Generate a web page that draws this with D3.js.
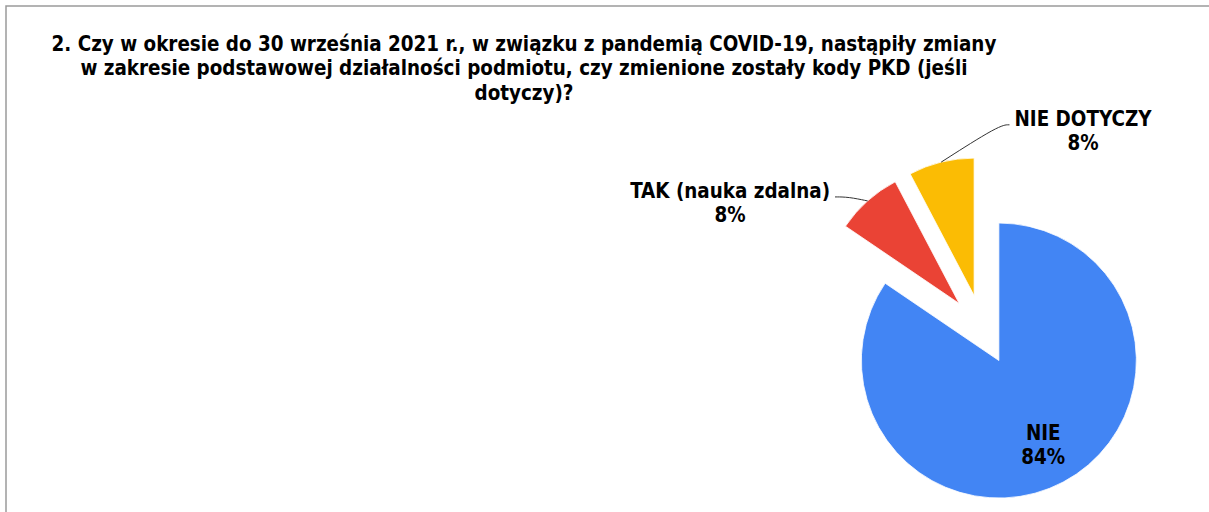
<!DOCTYPE html>
<html>
<head>
<meta charset="utf-8">
<script src="https://cdn.jsdelivr.net/npm/d3@7"></script>
<style>
  html, body { margin: 0; padding: 0; background: #fff; }
  svg { display: block; }
  text { font-family: "DejaVu Sans Condensed", "DejaVu Sans", sans-serif; font-weight: bold; fill: #000; }
</style>
</head>
<body>
<svg id="chart" width="1209" height="512"></svg>
<script>
// ---- data ----
const titleLines = [
  "2. Czy w okresie do 30 września 2021 r., w związku z pandemią COVID-19, nastąpiły zmiany",
  "w zakresie podstawowej działalności podmiotu, czy zmienione zostały kody PKD (jeśli",
  "dotyczy)?"
];
const categories = ["NIE", "TAK (nauka zdalna)", "NIE DOTYCZY"];
const values = [84.5, 7.8, 7.7];
const percentLabels = ["84%", "8%", "8%"];
const colors = ["#4285F4", "#EA4335", "#FBBC04"];

// ---- layout ----
const W = 1209, H = 512;
const cx = 982.5, cy = 329.6, R = 137.5, explode = 35;
const fontSize = 20.4;

const svg = d3.select("#chart");

// frame
svg.append("path")
  .attr("d", `M6,${H} L6,6 L${W},6`)
  .attr("fill", "none")
  .attr("stroke", "#9a9a9a")
  .attr("stroke-width", 1.5);

// title
const title = svg.append("text")
  .attr("text-anchor", "middle")
  .style("font-size", fontSize + "px");
titleLines.forEach((t, i) => {
  title.append("tspan").attr("x", 524).attr("y", 50.7 + i * 24.4).text(t);
});

// pie
const pie = d3.pie().sort(null).value(d => d)(values);
const arc = d3.arc().innerRadius(0).outerRadius(R);
const g = svg.append("g").attr("transform", `translate(${cx},${cy})`);

function mid(d) { return (d.startAngle + d.endAngle) / 2; }
function offs(d) { const a = mid(d); return [explode * Math.sin(a), -explode * Math.cos(a)]; }

g.selectAll("path.slice").data(pie).join("path")
  .attr("class", "slice")
  .attr("d", arc)
  .attr("fill", (d, i) => colors[i])
  .attr("stroke", "#fff")
  .attr("stroke-width", 0.8)
  .attr("transform", d => { const o = offs(d); return `translate(${o[0]},${o[1]})`; });

// inside label for the big slice
{
  const d = pie[0];
  const o = offs(d);
  const a = mid(d), rr = R * 0.69;
  const x = o[0] + rr * Math.sin(a), y = o[1] - rr * Math.cos(a);
  const t = g.append("text").attr("text-anchor", "middle").style("font-size", fontSize + "px");
  t.append("tspan").attr("x", x).attr("y", y - 4).text(categories[0]);
  t.append("tspan").attr("x", x).attr("y", y + 19.7).text(percentLabels[0]);
}

// outside labels with leader lines
const outside = [
  { i: 1, elbow: [-19.3, -4], end: [-32.6, -4], side: "left" },
  { i: 2, elbow: [58.3, -37.3], end: [68.3, -37.3], side: "right" }
];
outside.forEach(L => {
  const d = pie[L.i];
  const o = offs(d);
  const a = mid(d);
  const px = o[0] + R * Math.sin(a), py = o[1] - R * Math.cos(a);
  const ex = px + L.elbow[0], ey = py + L.elbow[1];
  const fx = px + L.end[0], fy = py + L.end[1];
  g.append("path")
    .attr("d", d3.line().curve(d3.curveBasis)([[px, py], [ex, ey], [fx, fy]]))
    .attr("fill", "none")
    .attr("stroke", "#333")
    .attr("stroke-width", 1);
  const t = g.append("text").attr("text-anchor", "middle").style("font-size", fontSize + "px");
  const s1 = t.append("tspan").attr("y", fy + 1.5).text(categories[L.i]);
  const s2 = t.append("tspan").attr("y", fy + 25).text(percentLabels[L.i]);
  const w = s1.node().getComputedTextLength();
  const gap = 5;
  const centerX = L.side === "left" ? fx - gap - w / 2 : fx + gap + w / 2;
  s1.attr("x", centerX);
  s2.attr("x", centerX);
});
</script>
</body>
</html>
